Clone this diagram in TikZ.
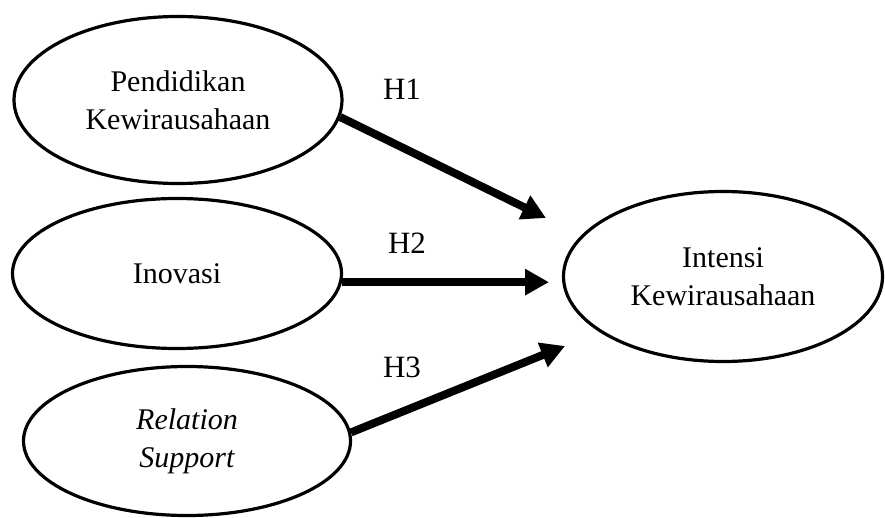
\documentclass[tikz,border=0pt]{standalone}
\usepackage{fontspec}
\setmainfont{Liberation Serif}
\usetikzlibrary{shapes.geometric,arrows.meta}
\begin{document}
\begin{tikzpicture}[x=1pt,y=-1pt,
  var/.style={draw,ellipse,line width=3.2pt,inner sep=0pt,align=center,
    font=\fontsize{30}{38}\selectfont},
  hyp/.style={font=\fontsize{31}{34}\selectfont},
  link/.style={line width=8pt,-{Triangle[length=24pt,width=25pt]}}]
\useasboundingbox (0,0) rectangle (885,518);
\node[var,minimum width=328pt,minimum height=167pt] (pk) at (178,100) {Pendidikan\\Kewirausahaan};
\node[var,minimum width=329pt,minimum height=150pt] (inv) at (177,273.5) {Inovasi};
\node[var,minimum width=327pt,minimum height=149pt] (rs) at (187,441) {\itshape Relation\\\itshape Support};
\node[var,minimum width=319pt,minimum height=170pt] (ik) at (723,276.5) {Intensi\\Kewirausahaan};
\coordinate (t1) at (546,218);
\coordinate (t2) at (549,282);
\coordinate (t3) at (565,346);
\draw[link] (pk.-6) -- (t1);
\draw[link] (inv.-3) -- (inv.-3 -| t2);
\draw[link] (rs.3) -- (t3);
\node[hyp] (h1) at (402,89) {H1};
\node[hyp] (h2) at (407,243) {H2};
\node[hyp] (h3) at (402,367) {H3};
\end{tikzpicture}
\end{document}
